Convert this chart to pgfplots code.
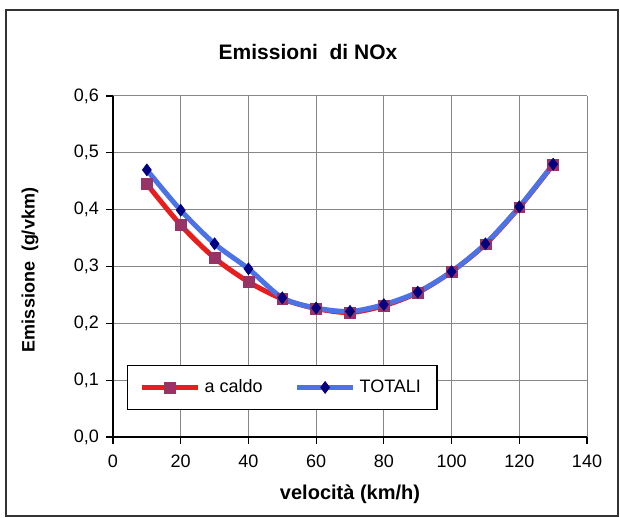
\documentclass[border=0pt]{standalone}
\usepackage{fontspec}
\setmainfont{Liberation Sans}
\usepackage{pgfplots}
\pgfplotsset{compat=1.18}

\definecolor{caldoline}{RGB}{230,30,30}
\definecolor{caldomark}{RGB}{153,51,102}
\definecolor{totline}{RGB}{75,115,230}
\definecolor{totmark}{RGB}{0,0,128}
\definecolor{gridgray}{RGB}{135,135,135}

\begin{document}
\begin{tikzpicture}
\useasboundingbox (0pt,0pt) rectangle (310pt,259pt);
\fill[white] (0pt,0pt) rectangle (310pt,259pt);
\draw[line width=0.8pt,black!80] (3pt,1pt) rectangle (309pt,254pt);

\begin{axis}[
  scale only axis,
  width=237pt, height=170.5pt,
  at={(56.5pt,40.5pt)}, anchor=south west,
  xmin=0, xmax=140, ymin=0, ymax=0.6,
  xtick={0,20,...,140},
  ytick={0,0.1,...,0.6},
  axis x line*=bottom, axis y line*=left,
  axis line style={black, line width=0.6pt},
  grid=major,
  major grid style={gridgray, line width=0.5pt},
  tick align=outside,
  major tick length=3.5pt,
  tick style={black, line width=0.6pt},
  tick label style={font=\fontsize{9}{11}\selectfont},
  xticklabel style={yshift=-2pt},
  /pgf/number format/assume math mode=true,
  yticklabel style={/pgf/number format/.cd, use comma, fixed, fixed zerofill, precision=1},
  xticklabel style={/pgf/number format/.cd, fixed, precision=0},
  legend columns=2,
  legend style={at={(0.0295,0.079)}, anchor=south west, draw=black, line width=0.6pt,
    font=\fontsize{9}{11}\selectfont, inner xsep=6pt, inner ysep=5pt,
    /tikz/every even column/.append style={column sep=14pt}},
  legend image code/.code={\draw[mark repeat=2,mark phase=2,#1] plot coordinates {(0pt,0pt) (14pt,0pt) (28pt,0pt)};},
]
\addplot[smooth, color=caldoline, line width=2.5pt,
  mark=square*, mark size=2.7pt, mark options={fill=caldomark, draw=caldomark, line width=0.3pt}]
  coordinates {
  (10,0.445) (20,0.373) (30,0.315) (40,0.273) (50,0.243) (60,0.226) (70,0.219)
  (80,0.231) (90,0.254) (100,0.291) (110,0.339) (120,0.404) (130,0.479)
  };
\addlegendentry{a caldo}
\addplot[smooth, color=totline, line width=2.5pt,
  mark=diamond*, mark size=3pt, mark options={fill=totmark, draw=totmark, line width=0.3pt}]
  coordinates {
  (10,0.470) (20,0.399) (30,0.340) (40,0.296) (50,0.245) (60,0.227) (70,0.221)
  (80,0.233) (90,0.255) (100,0.291) (110,0.340) (120,0.405) (130,0.480)
  };
\addlegendentry{TOTALI}
\end{axis}

\node[font=\bfseries\fontsize{10.5}{12}\selectfont] at (154pt,233pt) {Emissioni\ \ di NOx};
\node[font=\bfseries\fontsize{10}{12}\selectfont] at (175pt,12pt) {velocità (km/h)};
\node[font=\bfseries\fontsize{9}{10}\selectfont, rotate=90] at (15pt,124pt) {Emissione\ \ (g/vkm)};
\end{tikzpicture}
\end{document}
